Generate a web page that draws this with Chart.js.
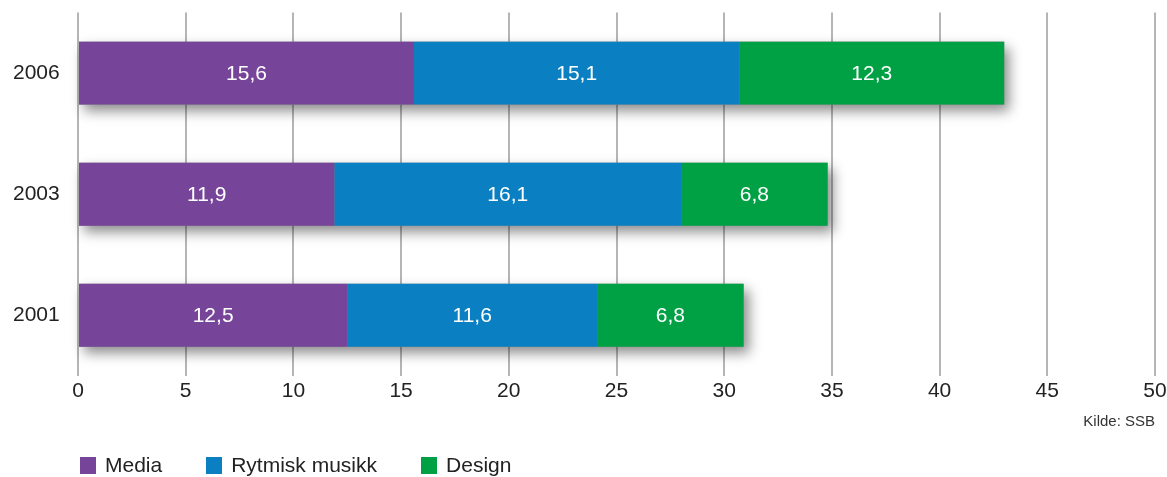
<!DOCTYPE html>
<html lang="no">
<head>
  <meta charset="UTF-8" />
  <title>Elever per linje</title>
  <script src="https://cdn.jsdelivr.net/npm/chart.js"></script>
  <style>
    html, body { margin: 0; padding: 0; background: #fff; }
    .wrap { position: relative; width: 1167px; height: 477px; font-family: "Liberation Sans", Arial, sans-serif; }
    .legend { position: absolute; left: 80px; top: 453px; display: flex; align-items: center; font-size: 21px; color: #222; }
    .legend span.item { display: flex; align-items: center; margin-right: 44px; }
    .legend i { display: inline-block; width: 16px; height: 17px; margin-right: 9px; }
  </style>
</head>
<body>
  <div class="wrap">
    <canvas id="chart" width="1167" height="477"></canvas>
    <div class="legend" id="legend"></div>
  </div>

  <script>
    // data
    const years = ["2006", "2003", "2001"];
    const media = [15.6, 11.9, 12.5];
    const rytmisk = [15.1, 16.1, 11.6];
    const design = [12.3, 6.8, 6.8];
    const seriesNames = ["Media", "Rytmisk musikk", "Design"];
    const colors = ["#76459a", "#0a80c2", "#00a145"];

    const fmt = v => v.toFixed(1).replace(".", ",");

    // drop shadow behind each whole bar
    const barShadow = {
      id: "barShadow",
      beforeDatasetsDraw(chart) {
        const ctx = chart.ctx;
        const first = chart.getDatasetMeta(0).data;
        const last = chart.getDatasetMeta(chart.data.datasets.length - 1).data;
        ctx.save();
        ctx.shadowColor = "rgba(0,0,0,0.45)";
        ctx.shadowBlur = 12;
        ctx.shadowOffsetX = 5;
        ctx.shadowOffsetY = 6;
        ctx.fillStyle = "#888";
        first.forEach((bar, i) => {
          const end = last[i];
          const h = bar.height;
          ctx.fillRect(bar.base, bar.y - h / 2, end.x - bar.base, h);
        });
        ctx.restore();
      }
    };

    // white value labels in the middle of each segment
    const valueLabels = {
      id: "valueLabels",
      afterDatasetsDraw(chart) {
        const ctx = chart.ctx;
        ctx.save();
        ctx.fillStyle = "#fff";
        ctx.font = "21px 'Liberation Sans', Arial, sans-serif";
        ctx.textAlign = "center";
        ctx.textBaseline = "middle";
        chart.data.datasets.forEach((ds, d) => {
          chart.getDatasetMeta(d).data.forEach((bar, i) => {
            ctx.fillText(fmt(ds.data[i]), (bar.x + bar.base) / 2, bar.y + 1);
          });
        });
        ctx.restore();
      }
    };

    Chart.defaults.font.family = "'Liberation Sans', Arial, sans-serif";
    Chart.defaults.color = "#222";

    const chart = new Chart(document.getElementById("chart"), {
      type: "bar",
      data: {
        labels: years,
        datasets: [
          { label: seriesNames[0], data: media, backgroundColor: colors[0] },
          { label: seriesNames[1], data: rytmisk, backgroundColor: colors[1] },
          { label: seriesNames[2], data: design, backgroundColor: colors[2] },
        ],
      },
      options: {
        indexAxis: "y",
        responsive: false,
        animation: false,
        barPercentage: 0.52,
        categoryPercentage: 1,
        layout: { padding: { top: 11, right: 12, left: 13, bottom: 46 } },
        plugins: {
          legend: { display: false },
          tooltip: { enabled: false },
        },
        scales: {
          x: {
            stacked: true,
            min: 0,
            max: 50,
            ticks: { stepSize: 5, padding: 0, font: { size: 21 }, color: "#222" },
            grid: { color: "#b3b6b9", lineWidth: 2, drawTicks: true, tickLength: 3, tickColor: "rgba(0,0,0,0)" },
            border: { display: false },
            title: {
              display: true,
              text: "Kilde: SSB",
              align: "end",
              font: { size: 15 },
              color: "#333",
              padding: { top: 9, bottom: 0 },
            },
          },
          y: {
            stacked: true,
            grid: { display: false, drawTicks: false },
            border: { display: false },
            ticks: { padding: 0, crossAlign: "far", font: { size: 21 }, color: "#222" },
            afterFit: s => { s.width = 65; },
          },
        },
      },
      plugins: [barShadow, valueLabels],
    });

    // legend below the chart
    const legend = document.getElementById("legend");
    seriesNames.forEach((name, i) => {
      const item = document.createElement("span");
      item.className = "item";
      item.innerHTML = `<i style="background:${colors[i]}"></i>${name}`;
      legend.appendChild(item);
    });
  </script>
</body>
</html>
